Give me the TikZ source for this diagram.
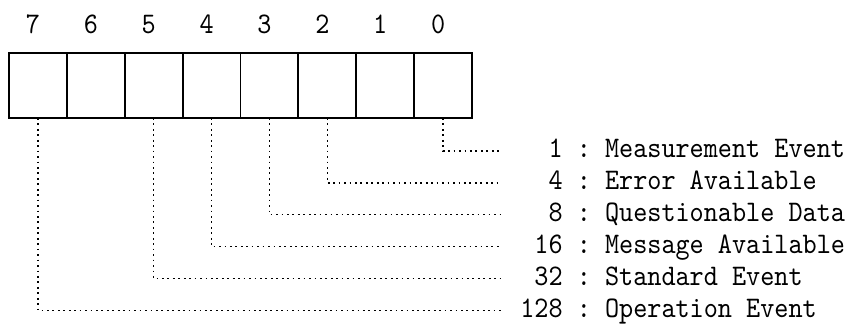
\documentclass[tikz,border=0pt]{standalone}
\usepackage{fontspec}
\setmonofont{lmmono10-regular.otf}[FakeStretch=0.9]
\usetikzlibrary{positioning}

\begin{document}
\begin{tikzpicture}[
  font=\ttfamily\fontsize{17}{20}\selectfont,
  cell/.style={draw, line width=1.1pt, minimum width=1.1575cm,
    minimum height=1.3cm, inner sep=0pt, outer sep=0pt},
  bitno/.style={inner sep=0pt},
  evt/.style={anchor=west, inner xsep=0.36cm, inner ysep=0pt,
    text height=0.28cm, text depth=0pt},
  link/.style={line width=0.7pt, dash pattern=on 1pt off 2.1pt}]
  \useasboundingbox (0,0) rectangle (17,6.48);

  % register cells, bit 7 on the left
  \node[cell, anchor=south west] (c7) at (0.18,4.12) {};
  \node[cell, right=0pt of c7] (c6) {};
  \node[cell, right=0pt of c6] (c5) {};
  \node[cell, right=0pt of c5] (c4) {};
  \node[cell, right=0pt of c4] (c3) {};
  \node[cell, right=0pt of c3] (c2) {};
  \node[cell, right=0pt of c2] (c1) {};
  \node[cell, right=0pt of c1] (c0) {};

  % bit numbers
  \node[bitno, above=0.38cm of c7, xshift=-0.1cm] (n7) {7};
  \node[bitno, above=0.38cm of c6, xshift=-0.1cm] (n6) {6};
  \node[bitno, above=0.38cm of c5, xshift=-0.1cm] (n5) {5};
  \node[bitno, above=0.38cm of c4, xshift=-0.1cm] (n4) {4};
  \node[bitno, above=0.38cm of c3, xshift=-0.1cm] (n3) {3};
  \node[bitno, above=0.38cm of c2, xshift=-0.1cm] (n2) {2};
  \node[bitno, above=0.38cm of c1, xshift=-0.1cm] (n1) {1};
  \node[bitno, above=0.38cm of c0, xshift=-0.1cm] (n0) {0};

  % event weights
  \node[evt] (e0) at (10.04,3.46)
    {\hphantom{12}1 : Measurement Event};
  \node[evt] (e2) at (10.04,2.822)
    {\hphantom{12}4 : Error Available};
  \node[evt] (e3) at (10.04,2.184)
    {\hphantom{12}8 : Questionable Data};
  \node[evt] (e4) at (10.04,1.546)
    {\hphantom{1}16 : Message Available};
  \node[evt] (e5) at (10.04,0.908)
    {\hphantom{1}32 : Standard Event};
  \node[evt] (e7) at (10.04,0.27)
    {128 : Operation Event};

  \draw[link] (c0.south) |- (e0.west);
  \draw[link] (c2.south) |- (e2.west);
  \draw[link] (c3.south) |- (e3.west);
  \draw[link] (c4.south) |- (e4.west);
  \draw[link] (c5.south) |- (e5.west);
  \draw[link] (c7.south) |- (e7.west);
\end{tikzpicture}
\end{document}
